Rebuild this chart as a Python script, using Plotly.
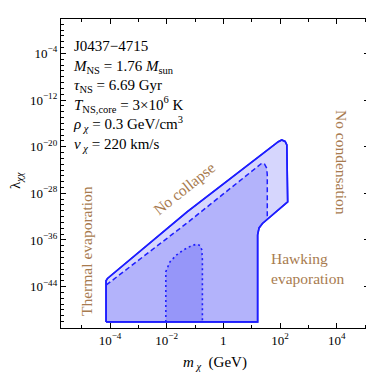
import numpy as np
import plotly.graph_objects as go

# boundary points, as log10(m_chi / GeV) and log10(lambda)
outer_logm = [-4.14, -4.14, -4.09, -1.28, 1.94, 2.06, 2.18, 2.24, 2.27, 1.38, 1.26, 1.21, 1.21, -4.14]
outer_logl = [-50.05, -43.0, -42.6, -31.2, -19.14, -18.85, -19.1, -19.7, -29.48, -33.17, -33.94, -35.14, -50.05, -50.05]

dashed_logm = [-4.13, -1.28, 1.355, 1.45, 1.53, 1.55, 1.55]
dashed_logl = [-43.71, -33.08, -22.84, -22.96, -23.7, -24.85, -32.4]
# rest of the dashed region follows the solid edge
dashed_tail_logm = [1.38, 1.26, 1.21, 1.21, -4.14, -4.14]
dashed_tail_logl = [-33.17, -33.94, -35.14, -50.05, -50.05, -43.71]

dotted_logm = [-2.03, -2.03, -1.88, -1.65, -1.41, -1.12, -0.94, -0.82, -0.76, -0.74, -0.74]
dotted_logl = [-50.05, -41.43, -39.71, -38.57, -37.71, -36.97, -36.73, -36.97, -37.71, -39.42, -50.05]

x_major = [1e-4, 1e-2, 1, 1e2, 1e4]
x_major_text = ["10<sup>−4</sup>", "10<sup>−2</sup>", "1", "10<sup>2</sup>", "10<sup>4</sup>"]
x_minor = [1e-5, 1e-3, 1e-1, 1e1, 1e3, 1e5]
y_major = [1e-4, 1e-12, 1e-20, 1e-28, 1e-36, 1e-44]
y_major_text = ["10<sup>−4</sup>", "10<sup>−12</sup>", "10<sup>−20</sup>", "10<sup>−28</sup>",
                "10<sup>−36</sup>", "10<sup>−44</sup>"]
y_minor = [10.0 ** k for k in range(-51, 2)]

info_lines = [
    "J0437−4715",
    "<i>M</i><sub>NS</sub> = 1.76 <i>M</i><sub>sun</sub>",
    "<i>τ</i><sub>NS</sub> = 6.69 Gyr",
    "<i>T</i><sub>NS,core</sub> = 3×10<sup>6</sup> K",
    "<i>ρ</i><sub> <i>χ</i></sub> = 0.3 GeV/cm<sup>3</sup>",
    "<i>v</i><sub> <i>χ</i></sub> = 220 km/s",
]

BLUE = "#1e1eff"
FILL = "rgba(0,0,240,0.16)"
TAN = "#a87b4f"
SERIF = "Liberation Serif"


def pw(a):
    return 10.0 ** np.asarray(a)


fig = go.Figure()
fig.add_trace(go.Scatter(x=pw(outer_logm), y=pw(outer_logl), mode="lines", fill="toself",
                         fillcolor=FILL, line=dict(color=BLUE, width=1.6)))
fig.add_trace(go.Scatter(x=pw(dashed_logm + dashed_tail_logm), y=pw(dashed_logl + dashed_tail_logl),
                         mode="none", fill="toself", fillcolor=FILL))
fig.add_trace(go.Scatter(x=pw(dashed_logm), y=pw(dashed_logl), mode="lines",
                         line=dict(color=BLUE, width=1.5, dash="5px,3px")))
fig.add_trace(go.Scatter(x=pw(dotted_logm), y=pw(dotted_logl), mode="lines", fill="toself",
                         fillcolor=FILL, line=dict(color=BLUE, width=1.6, dash="2px,3px")))
# redraw solid edge on top
fig.add_trace(go.Scatter(x=pw(outer_logm), y=pw(outer_logl), mode="lines",
                         line=dict(color=BLUE, width=1.6)))

axis_common = dict(type="log", showgrid=False, zeroline=False, showline=True, linecolor="black",
                   linewidth=1.4, mirror="allticks", ticks="inside", tickcolor="black",
                   tickwidth=1, automargin=False,
                   tickfont=dict(family=SERIF, size=13, color="black"))
fig.update_xaxes(range=[-5.73, 5.14], tickvals=x_major, ticktext=x_major_text, ticklen=5,
                 minor=dict(tickvals=x_minor, ticklen=3, ticks="inside", tickcolor="black"),
                 **axis_common)
fig.update_yaxes(range=[-51.1, 1.9], tickvals=y_major, ticktext=y_major_text, ticklen=5,
                 minor=dict(tickvals=y_minor, ticklen=2.5, ticks="inside", tickcolor="black"),
                 **axis_common)

# the page body adds an 8px offset; shrink the figure so it fits the window
OFF = 8
W, H = 374 - OFF, 374 - OFF
L, R, T, B = 61 - OFF, 5, 19 - OFF, 46


def px(x):
    return (x - OFF - L) / (W - L - R)


def py(y):
    return 1 - (y - OFF - T) / (H - T - B)


anns = [
    dict(x=px(71), y=py(36), xanchor="left", yanchor="top", align="left",
         text="<br>".join(info_lines), font=dict(family=SERIF, size=15, color="black")),
    dict(x=px(86), y=py(251), textangle=-90, text="Thermal evaporation",
         font=dict(family=SERIF, size=15.5, color=TAN)),
    dict(x=px(184), y=py(188), textangle=-38.7, text="No collapse",
         font=dict(family=SERIF, size=15.5, color=TAN)),
    dict(x=px(341), y=py(162), textangle=90, text="No condensation",
         font=dict(family=SERIF, size=15.5, color=TAN)),
    dict(x=px(269), y=py(268), xanchor="left", align="left", text="Hawking<br>evaporation",
         font=dict(family=SERIF, size=15.5, color=TAN)),
    dict(x=px(215), y=py(363), text="<i>m</i><sub> <i>χ</i></sub>  (GeV)",
         font=dict(family=SERIF, size=15, color="black")),
    dict(x=px(16), y=py(181), textangle=-90, text="λ<sub><i>χχ</i></sub>",
         font=dict(family=SERIF, size=15, color="black")),
]
for a in anns:
    a.setdefault("xanchor", "center")
    a.setdefault("yanchor", "middle")
    a.update(xref="paper", yref="paper", showarrow=False)

fig.update_layout(width=W, height=H, margin=dict(l=L, r=R, t=T, b=B),
                  plot_bgcolor="white", paper_bgcolor="white", showlegend=False,
                  annotations=anns)
fig.write_html("out.html")
